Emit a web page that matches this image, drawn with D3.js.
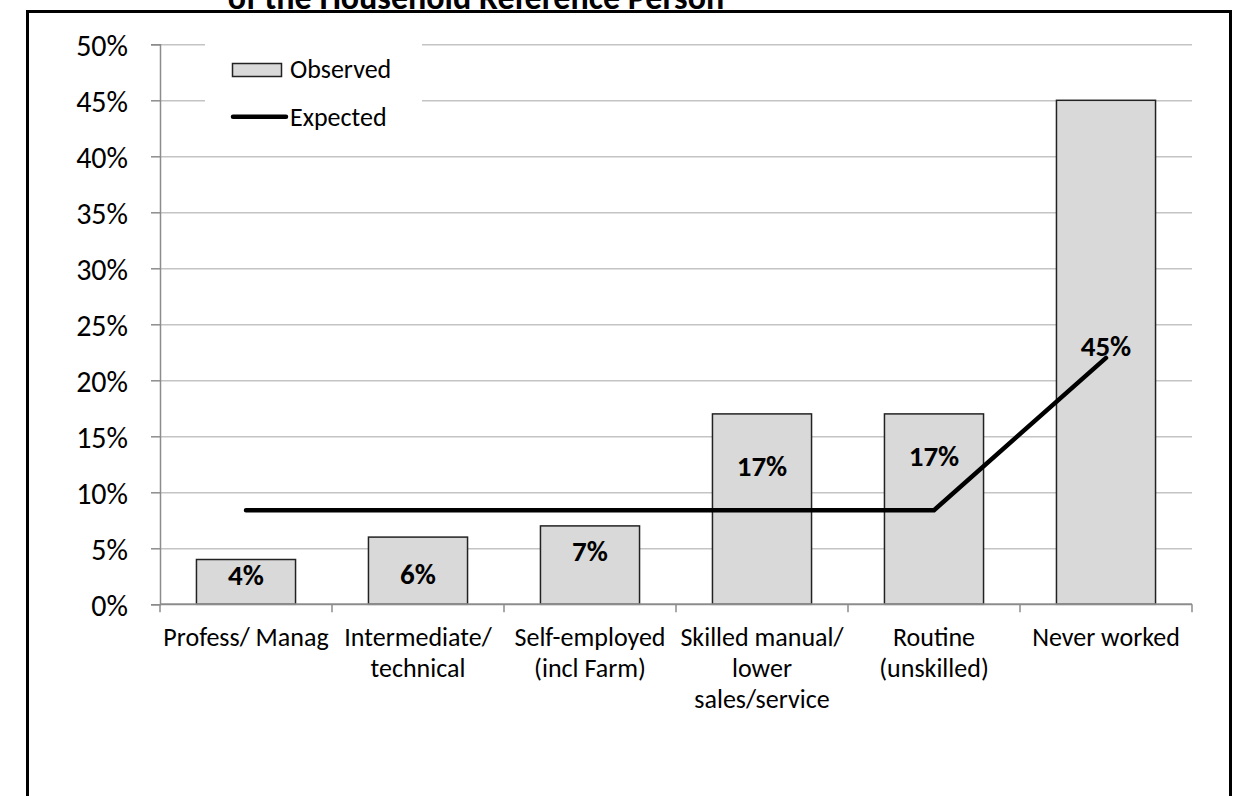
<!DOCTYPE html>
<html>
<head>
<meta charset="utf-8">
<script src="https://cdn.jsdelivr.net/npm/d3@7"></script>
<style>
  body { margin: 0; background: #fff; }
  svg text { font-family: Carlito, Calibri, Lato, sans-serif; fill: #000; }
</style>
</head>
<body>
<svg width="1242" height="796"></svg>
<script>
// chart data
const categories = ["Profess/ Manag", "Intermediate/ technical", "Self-employed (incl Farm)",
                    "Skilled manual/ lower sales/service", "Routine (unskilled)", "Never worked"];
const catLines = [["Profess/ Manag"], ["Intermediate/", "technical"], ["Self-employed", "(incl Farm)"],
                  ["Skilled manual/", "lower", "sales/service"], ["Routine", "(unskilled)"], ["Never worked"]];
const observed = [0.04, 0.06, 0.07, 0.17, 0.17, 0.45];
const expected = [0.084, 0.084, 0.084, 0.084, 0.084, 0.22];
const yTicks = [0, 0.05, 0.10, 0.15, 0.20, 0.25, 0.30, 0.35, 0.40, 0.45, 0.50];
// where each data label sits (value units, label centre) - placed by hand in the original
const labelAt = [0.027, 0.0275, 0.0476, 0.1235, 0.1325, 0.231];
const titleText = "of the Household Reference Person";

const svg = d3.select("svg")
const plotL = 160, plotR = 1192, plotT = 44.3, plotB = 604.3

// frame
svg.append("rect")
  .attr("x", 27.5).attr("y", 11.5).attr("width", 1203).attr("height", 820)
  .attr("fill", "#fff").attr("stroke", "#000").attr("stroke-width", 3)

// title (only its last line peeks in above the frame, as in the original)
svg.append("text")
  .attr("x", 476).attr("y", 9)
  .attr("text-anchor", "middle")
  .style("font-weight", "bold").style("font-size", "34px")
  .text(titleText)

const x = d3.scaleBand().domain(categories).range([plotL, plotR])
  .paddingInner(0.424).paddingOuter(0.212)
const y = d3.scaleLinear().domain([0, 0.5]).range([plotB, plotT])

// gridlines
svg.append("g")
  .attr("transform", `translate(${plotL},0)`)
  .call(d3.axisLeft(y).tickValues(yTicks.slice(1)).tickSize(-(plotR - plotL)).tickFormat(""))
  .call(g => g.select(".domain").remove())
  .call(g => g.selectAll("line").attr("stroke", "#c4c4c4").attr("stroke-width", 1.5))

// y axis with ticks + labels
svg.append("g")
  .attr("transform", `translate(${plotL},0)`)
  .call(d3.axisLeft(y).tickValues(yTicks).tickSize(9).tickPadding(23).tickFormat(d3.format(".0%")))
  .call(g => g.select(".domain").attr("stroke", "#8c8c8c").attr("stroke-width", 1.5))
  .call(g => g.selectAll("line").attr("stroke", "#8c8c8c").attr("stroke-width", 1.5))
  .call(g => g.selectAll("text").style("font-size", "30px").attr("dy", "0.36em"))
  .attr("font-family", null)

// legend (white box hides the gridlines behind it)
const lg = svg.append("g")
lg.append("rect").attr("x", 205).attr("y", 36).attr("width", 217).attr("height", 104).attr("fill", "#fff")
lg.append("rect").attr("x", 232.5).attr("y", 63.5).attr("width", 49).attr("height", 13)
  .attr("fill", "#d9d9d9").attr("stroke", "#222").attr("stroke-width", 1.5)
lg.append("text").attr("x", 290).attr("y", 78).style("font-size", "26px").text("Observed")
lg.append("line").attr("x1", 233).attr("x2", 286).attr("y1", 116.7).attr("y2", 116.7)
  .attr("stroke", "#000").attr("stroke-width", 4.5).attr("stroke-linecap", "round")
lg.append("text").attr("x", 290).attr("y", 126).style("font-size", "26px").text("Expected")

// bars
svg.append("g").selectAll("rect")
  .data(observed)
  .join("rect")
  .attr("x", (d, i) => x(categories[i]))
  .attr("y", d => y(d))
  .attr("width", x.bandwidth())
  .attr("height", d => plotB - y(d))
  .attr("fill", "#d9d9d9").attr("stroke", "#222").attr("stroke-width", 1.5)

// x axis: line + boundary ticks + wrapped labels
const xa = svg.append("g")
xa.append("line").attr("x1", plotL).attr("x2", plotR).attr("y1", plotB).attr("y2", plotB)
  .attr("stroke", "#8c8c8c").attr("stroke-width", 2)
xa.selectAll("line.tick")
  .data(d3.range(categories.length + 1))
  .join("line").attr("class", "tick")
  .attr("x1", i => plotL + i * x.step()).attr("x2", i => plotL + i * x.step())
  .attr("y1", plotB).attr("y2", plotB + 8)
  .attr("stroke", "#8c8c8c").attr("stroke-width", 1.5)
xa.selectAll("text")
  .data(catLines)
  .join("text")
  .attr("text-anchor", "middle")
  .attr("x", (d, i) => x(categories[i]) + x.bandwidth() / 2)
  .attr("y", 646)
  .style("font-size", "26px")
  .selectAll("tspan")
  .data(d => d)
  .join("tspan")
  .attr("x", function() { return d3.select(this.parentNode).attr("x") })
  .attr("dy", (d, j) => j === 0 ? 0 : 31)
  .text(d => d)

// expected line
const line = d3.line()
  .x((d, i) => x(categories[i]) + x.bandwidth() / 2)
  .y(d => y(d))
svg.append("path")
  .datum(expected)
  .attr("d", line)
  .attr("fill", "none").attr("stroke", "#000").attr("stroke-width", 4.5)
  .attr("stroke-linecap", "round").attr("stroke-linejoin", "miter")

// data labels
svg.append("g").selectAll("text")
  .data(observed)
  .join("text")
  .attr("text-anchor", "middle")
  .attr("x", (d, i) => x(categories[i]) + x.bandwidth() / 2)
  .attr("y", (d, i) => y(labelAt[i]))
  .attr("dy", "0.36em")
  .style("font-size", "29px").style("font-weight", "bold")
  .text(d => d3.format(".0%")(d))
</script>
</body>
</html>
